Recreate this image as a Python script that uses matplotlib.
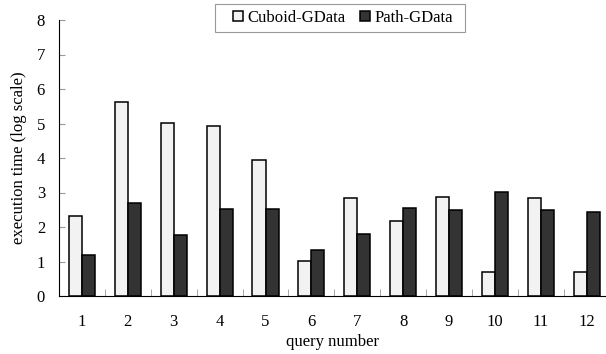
import matplotlib
matplotlib.use("Agg")

import numpy as np
import matplotlib.pyplot as plt
from matplotlib.patches import Rectangle

# data
queries = ['1', '2', '3', '4', '5', '6', '7', '8', '9', '10', '11', '12']
cuboid = [2.32, 5.63, 5.01, 4.93, 3.93, 1.02, 2.83, 2.17, 2.86, 0.70, 2.83, 0.70]
path = [1.20, 2.70, 1.76, 2.51, 2.53, 1.33, 1.80, 2.55, 2.49, 3.02, 2.49, 2.43]

plt.rcParams['font.family'] = ['Liberation Serif', 'DejaVu Serif']

fig = plt.figure(figsize=(6.06, 3.54), dpi=100)
ax = fig.add_axes([59 / 606, 58 / 354, 547 / 606, 276 / 354])

x = np.arange(len(queries))
w = 0.285
ax.bar(x - w / 2, cuboid, w, color='#f2f2f2', edgecolor='black', linewidth=1.1,
       label='Cuboid-GData')
ax.bar(x + w / 2, path, w, color='#333333', edgecolor='black', linewidth=1.1,
       label='Path-GData')

ax.set_xlim(-0.5, 11.42)
ax.set_ylim(0, 8)
ax.set_yticks(range(0, 9))
ax.set_xticks(x)
ax.set_xticklabels(queries)
ax.set_xticks(x[:-1] + 0.5, minor=True)

ax.spines['right'].set_visible(False)
ax.spines['top'].set_visible(False)
ax.spines['left'].set_color('black')
ax.spines['bottom'].set_color('black')

ax.tick_params(axis='y', direction='in', length=4, color='#999999', labelsize=12, pad=10)
ax.tick_params(axis='x', which='major', length=0, labelsize=12, pad=13)
ax.tick_params(axis='x', which='minor', direction='in', length=5, color='#999999')

ax.set_xlabel('query number', fontsize=12, labelpad=3)
ax.set_ylabel('execution time (log scale)', fontsize=12, labelpad=7)

# legend box (frame drawn separately to get the wider padding)
fig.patches.append(Rectangle((215 / 606, 1 - 32 / 354), 250 / 606, 28 / 354,
                             transform=fig.transFigure, facecolor='white',
                             edgecolor='#999999', linewidth=0.8))
fig.legend(loc='center', bbox_to_anchor=(343 / 606, 1 - 18 / 354), ncol=2, frameon=False,
           fontsize=12, handlelength=0.6, handleheight=0.6, handletextpad=0.25,
           columnspacing=0.9, borderpad=0)

fig.savefig("out.png", dpi=100)
